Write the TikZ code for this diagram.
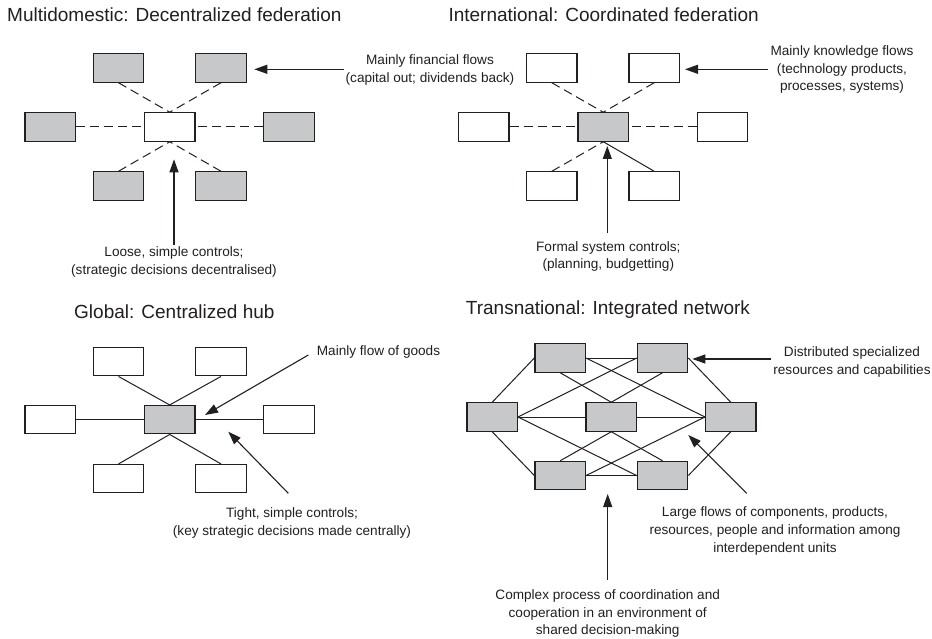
\documentclass[tikz,border=0pt]{standalone}
\usepackage{fontspec}
\setmainfont{Liberation Sans}
\usetikzlibrary{arrows.meta}
\definecolor{boxgray}{RGB}{199,200,202}
\definecolor{ink}{RGB}{35,31,32}
\begin{document}
\begin{tikzpicture}[x=1pt,y=-1pt,
  unit/.style={draw=ink, line width=1.2pt, minimum width=50.5pt, minimum height=28.3pt, inner sep=0pt, fill=white},
  shaded/.style={unit, fill=boxgray},
  link/.style={draw=ink, line width=1pt},
  dlink/.style={link, dash pattern=on 9pt off 5pt},
  arr/.style={draw=ink, line width=1.1pt, -{Triangle[length=13pt,width=9pt]}},
  title/.style={anchor=base west, inner sep=0pt, font=\fontsize{19}{22}\selectfont, text=ink},
  lbl/.style={align=center, inner sep=2pt, font=\fontsize{13.6}{17.7}\selectfont, text=ink},
]
\useasboundingbox[fill=white] (0,0) rectangle (932,639);

% ---------- titles
\node[title] (t1) at (7,21.7) {Multidomestic: Decentralized federation};
\node[title] (t2) at (448.3,21.7) {International: Coordinated federation};
\node[title] (t3) at (74,318) {Global: Centralized hub};
\node[title] (t4) at (465.7,314.5) {Transnational: Integrated network};

% ---------- Q1 multidomestic
\node[shaded] (q1tl) at (118.5,68) {};
\node[shaded] (q1tr) at (221,68) {};
\node[shaded] (q1l) at (50.2,127) {};
\node[unit]   (q1c) at (169.7,127) {};
\node[shaded] (q1r) at (289,127) {};
\node[shaded] (q1bl) at (118.5,186) {};
\node[shaded] (q1br) at (221,186) {};
\draw[dlink] (q1tl.south) -- (q1c.north);
\draw[dlink] (q1tr.south) -- (q1c.north);
\draw[dlink] (q1l.east) -- (q1c.west);
\draw[dlink] (q1r.west) -- (q1c.east);
\draw[dlink] (q1bl.north) -- (q1c.south);
\draw[dlink] (q1br.north) -- (q1c.south);

\node[lbl] (q1fin) at (430,70.2) {Mainly financial flows\\(capital out; dividends back)};
\node[lbl] (q1ctl) at (174,262) {Loose, simple controls;\\(strategic decisions decentralised)};
\coordinate (q1fint) at (254.3,69.3);
\coordinate (q1ctlt) at (174,159.3);
\draw[arr] (q1fin.west |- q1fint) -- (q1fint);
\draw[arr] (q1ctl.north) -- (q1ctlt);

% ---------- Q2 international
\node[unit] (q2tl) at (551.8,68) {};
\node[unit] (q2tr) at (654.2,68) {};
\node[unit] (q2l) at (483.8,127) {};
\node[shaded] (q2c) at (603.3,127) {};
\node[unit] (q2r) at (722.5,127) {};
\node[unit] (q2bl) at (551.8,186) {};
\node[unit] (q2br) at (654.2,186) {};
\draw[dlink] (q2tl.south) -- (q2c.north);
\draw[dlink] (q2tr.south) -- (q2c.north);
\draw[dlink] (q2l.east) -- (q2c.west);
\draw[dlink] (q2r.west) -- (q2c.east);
\draw[dlink] (q2bl.north) -- (q2c.south);
\draw[link] (q2br.north) -- (q2c.south);

\node[lbl] (q2know) at (842,69.6) {Mainly knowledge flows\\(technology products,\\processes, systems)};
\node[lbl] (q2ctl) at (608.3,256.4) {Formal system controls;\\(planning, budgetting)};
\coordinate (q2knowt) at (685,69.3);
\coordinate (q2ctlt) at (607.3,146);
\draw[arr] (q2know.west |- q2knowt) -- (q2knowt);
\draw[arr] ([yshift=6pt]q2ctl.north -| q2ctlt) -- (q2ctlt);

% ---------- Q3 global
\node[unit] (q3tl) at (118.5,361.7) {};
\node[unit] (q3tr) at (221,361.7) {};
\node[unit] (q3l) at (50.2,419.7) {};
\node[shaded] (q3c) at (169.7,419.7) {};
\node[unit] (q3r) at (289,419.7) {};
\node[unit] (q3bl) at (118.5,478.7) {};
\node[unit] (q3br) at (221,478.7) {};
\draw[link] (q3tl.south) -- (q3c.north);
\draw[link] (q3tr.south) -- (q3c.north);
\draw[link] (q3l.east) -- (q3c.west);
\draw[link] (q3r.west) -- (q3c.east);
\draw[link] (q3bl.north) -- (q3c.south);
\draw[link] (q3br.north) -- (q3c.south);

\node[lbl, anchor=west] (q3goods) at (314.7,351.7) {Mainly flow of goods};
\node[lbl] (q3tight) at (292,523) {Tight, simple controls;\\(key strategic decisions made centrally)};
\coordinate (q3gs) at (308.3,355);
\coordinate (q3gt) at (205,415);
\coordinate (q3ts) at (288.3,493.3);
\coordinate (q3tt) at (228.3,431.7);
\draw[arr] (q3gs) -- (q3gt);
\draw[arr] (q3ts) -- (q3tt);

% ---------- Q4 transnational
\node[shaded] (q4tl) at (560.2,358) {};
\node[shaded] (q4tr) at (662.5,358) {};
\node[shaded] (q4l) at (492.2,417) {};
\node[shaded] (q4c) at (611.3,417) {};
\node[shaded] (q4r) at (730.8,417) {};
\node[shaded] (q4bl) at (560.2,475.5) {};
\node[shaded] (q4br) at (662.5,475.5) {};
\draw[link] (q4tl.east) -- (q4tr.west);
\draw[link] (q4bl.east) -- (q4br.west);
\draw[link] (q4l.east) -- (q4c.west);
\draw[link] (q4c.east) -- (q4r.west);
\draw[link] (q4l.north) -- (q4tl.west);
\draw[link] (q4l.south) -- (q4bl.west);
\draw[link] (q4r.north) -- (q4tr.east);
\draw[link] (q4r.south) -- (q4br.east);
\draw[link] (q4l.east) -- (q4tr.west);
\draw[link] (q4l.east) -- (q4br.west);
\draw[link] (q4r.west) -- (q4tl.east);
\draw[link] (q4r.west) -- (q4bl.east);
\draw[link] (q4tl.south) -- (q4c.north);
\draw[link] (q4tr.south) -- (q4c.north);
\draw[link] (q4c.south) -- (q4bl.north);
\draw[link] (q4c.south) -- (q4br.north);

\node[lbl] (q4dist) at (852,362.3) {Distributed specialized\\resources and capabilities};
\node[lbl] (q4flow) at (775,531) {Large flows of components, products,\\resources, people and information among\\interdependent units};
\node[lbl] (q4cx) at (607.7,613.6) {Complex process of coordination and\\cooperation in an environment of\\shared decision-making};
\coordinate (q4dt) at (692.3,359);
\coordinate (q4fs) at (746.7,493.3);
\coordinate (q4ft) at (688.3,435);
\coordinate (q4ct) at (607.7,494);
\draw[arr] (q4dist.west |- q4dt) -- (q4dt);
\draw[arr] (q4fs) -- (q4ft);
\draw[arr] ([yshift=7.5pt]q4cx.north -| q4ct) -- (q4ct);
\end{tikzpicture}
\end{document}
